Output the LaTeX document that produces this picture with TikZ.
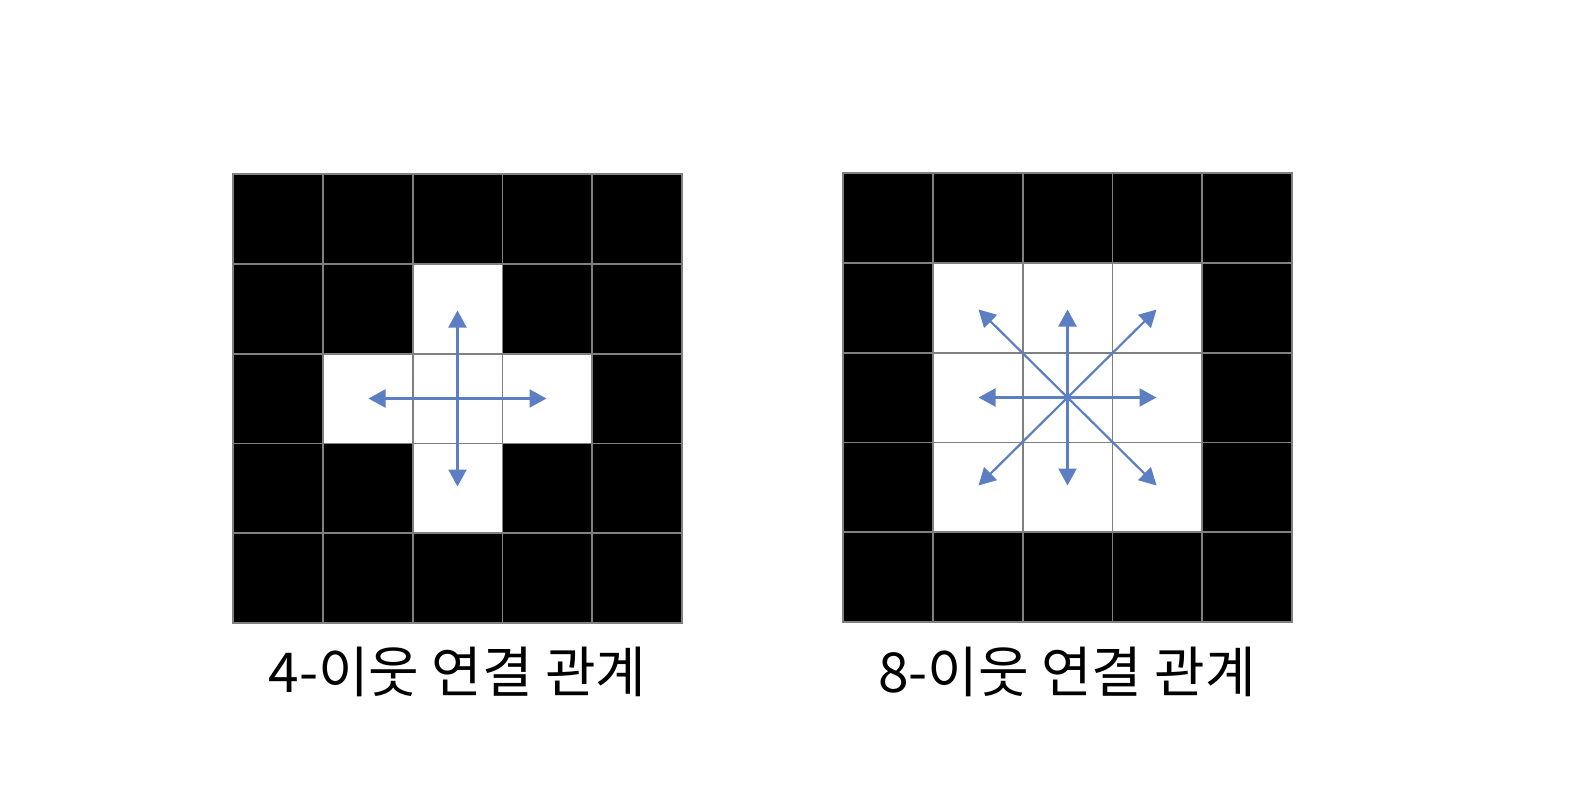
\documentclass[tikz,border=0pt]{standalone}
\usepackage{fontspec}
\newfontfamily\kr{Noto Sans CJK KR}
\usetikzlibrary{arrows.meta,calc}
\definecolor{arrblue}{HTML}{5B7FC2}
\definecolor{gridgray}{HTML}{808080}
\begin{document}
\begin{tikzpicture}[x=1pt,y=-1pt,
  cell/.style={draw=gridgray, line width=1.8pt, minimum size=89.8pt, inner sep=0pt, outer sep=0pt, anchor=north west},
  nbr/.style={draw=arrblue, line width=2.2pt, -{Triangle[width=18pt,length=17pt]}},
  caption/.style={font=\kr\fontsize{55}{62}\selectfont, inner sep=0pt}]
\fill[white] (0,0) rectangle (1574,808);
\useasboundingbox (0,0) rectangle (1574,808);
% left grid (4-neighbourhood)
\foreach \r in {0,...,4} {
  \foreach \c in {0,...,4} {
    \pgfmathtruncatemacro\w{(abs(\c-2)+abs(\r-2))<=1}
    \ifnum\w=1 \def\fc{white}\else\def\fc{black}\fi
    \node[cell, fill=\fc] (L-\r-\c) at (233+\c*89.8, 174+\r*89.8) {};
  }
}
% right grid (8-neighbourhood)
\foreach \r in {0,...,4} {
  \foreach \c in {0,...,4} {
    \pgfmathtruncatemacro\w{max(abs(\c-2),abs(\r-2))<=1}
    \ifnum\w=1 \def\fc{white}\else\def\fc{black}\fi
    \node[cell, fill=\fc] (R-\r-\c) at (843+\c*89.8, 173+\r*89.8) {};
  }
}
% left arrows
\coordinate (Lc) at (L-2-2.center);
\coordinate (Ln) at ($(Lc)+(0,-88)$);
\coordinate (Ls) at ($(Lc)+(0,88)$);
\coordinate (Le) at ($(Lc)+(89,0)$);
\coordinate (Lw) at ($(Lc)+(-89,0)$);
\foreach \t in {Ln,Ls,Le,Lw} \draw[nbr] (Lc) -- (\t);
% right arrows
\coordinate (Rc) at (R-2-2.center);
\coordinate (Rn) at ($(Rc)+(0,-88)$);
\coordinate (Rs) at ($(Rc)+(0,88)$);
\coordinate (Re) at ($(Rc)+(89,0)$);
\coordinate (Rw) at ($(Rc)+(-89,0)$);
\coordinate (Rne) at ($(Rc)+(89,-88)$);
\coordinate (Rnw) at ($(Rc)+(-89,-88)$);
\coordinate (Rse) at ($(Rc)+(89,88)$);
\coordinate (Rsw) at ($(Rc)+(-89,88)$);
\foreach \t in {Rn,Rs,Re,Rw,Rne,Rnw,Rse,Rsw} \draw[nbr] (Rc) -- (\t);
% captions
\node[caption] (capL) at (457.5, 672) {4-이웃 연결 관계};
\node[caption] (capR) at (1067, 672) {8-이웃 연결 관계};
\end{tikzpicture}
\end{document}
